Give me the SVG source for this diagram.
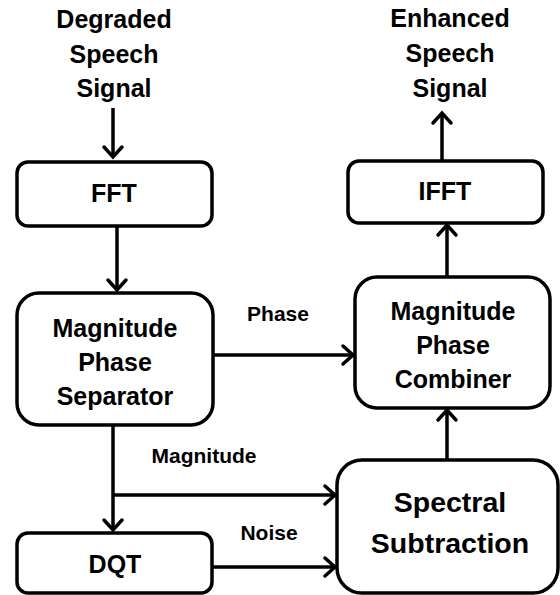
<svg xmlns="http://www.w3.org/2000/svg" width="560" height="595" viewBox="0 0 560 595">
<style>
.box{fill:#fff;stroke:#000;stroke-width:3.5}
.t{font-family:"Liberation Sans",Arial,sans-serif;font-weight:bold;font-size:25px;text-anchor:middle;fill:#000}
.big{font-size:28.5px}
.lbl{font-size:21px}
.c{fill:none;stroke:#000;stroke-width:3.5;marker-end:url(#ah)}
</style>
<defs>
<marker id="ah" markerUnits="userSpaceOnUse" markerWidth="24" markerHeight="24" refX="14" refY="12" orient="auto" viewBox="0 0 24 24">
<polyline points="4,3 14,12 4,21" fill="none" stroke="#000" stroke-width="3.5" stroke-linecap="round" stroke-linejoin="miter"/>
</marker>
</defs>
<g id="input-label">
<text class="t" x="114" y="28">Degraded</text>
<text class="t" x="114" y="63">Speech</text>
<text class="t" x="114" y="97">Signal</text>
</g>
<g id="output-label">
<text class="t" x="450" y="27">Enhanced</text>
<text class="t" x="450" y="62">Speech</text>
<text class="t" x="450" y="97">Signal</text>
</g>
<g id="fft">
<rect class="box" x="17" y="162" width="195" height="64" rx="11"/>
<text class="t" x="114" y="202">FFT</text>
</g>
<g id="ifft">
<rect class="box" x="348" y="161" width="195" height="62" rx="11"/>
<text class="t" x="445" y="200">IFFT</text>
</g>
<g id="separator">
<rect class="box" x="17" y="293" width="196" height="132" rx="22"/>
<text class="t" x="115" y="337">Magnitude</text>
<text class="t" x="115" y="371">Phase</text>
<text class="t" x="115" y="405">Separator</text>
</g>
<g id="combiner">
<rect class="box" x="355" y="277" width="195" height="131" rx="22"/>
<text class="t" x="453" y="320">Magnitude</text>
<text class="t" x="453" y="354">Phase</text>
<text class="t" x="453" y="388">Combiner</text>
</g>
<g id="dqt">
<rect class="box" x="17" y="533" width="195" height="60" rx="11"/>
<text class="t" x="115" y="573">DQT</text>
</g>
<g id="spectral">
<rect class="box" x="337" y="460" width="221" height="133" rx="25"/>
<text class="t big" x="450" y="512">Spectral</text>
<text class="t big" x="450" y="553">Subtraction</text>
</g>
<g id="connectors">
<line class="c" x1="113" y1="108" x2="113" y2="157"/>
<line class="c" x1="117" y1="226" x2="117" y2="290"/>
<line class="c" x1="213" y1="355" x2="353" y2="355"/>
<line class="c" x1="113" y1="425" x2="113" y2="530"/>
<line class="c" x1="113" y1="495" x2="335" y2="495"/>
<line class="c" x1="212" y1="567" x2="335" y2="567"/>
<line class="c" x1="447" y1="460" x2="447" y2="410"/>
<line class="c" x1="447" y1="277" x2="447" y2="225"/>
<line class="c" x1="442" y1="161" x2="442" y2="113"/>
<text class="t lbl" x="278" y="321">Phase</text>
<text class="t lbl" x="204" y="463">Magnitude</text>
<text class="t lbl" x="269" y="540">Noise</text>
</g>
</svg>
